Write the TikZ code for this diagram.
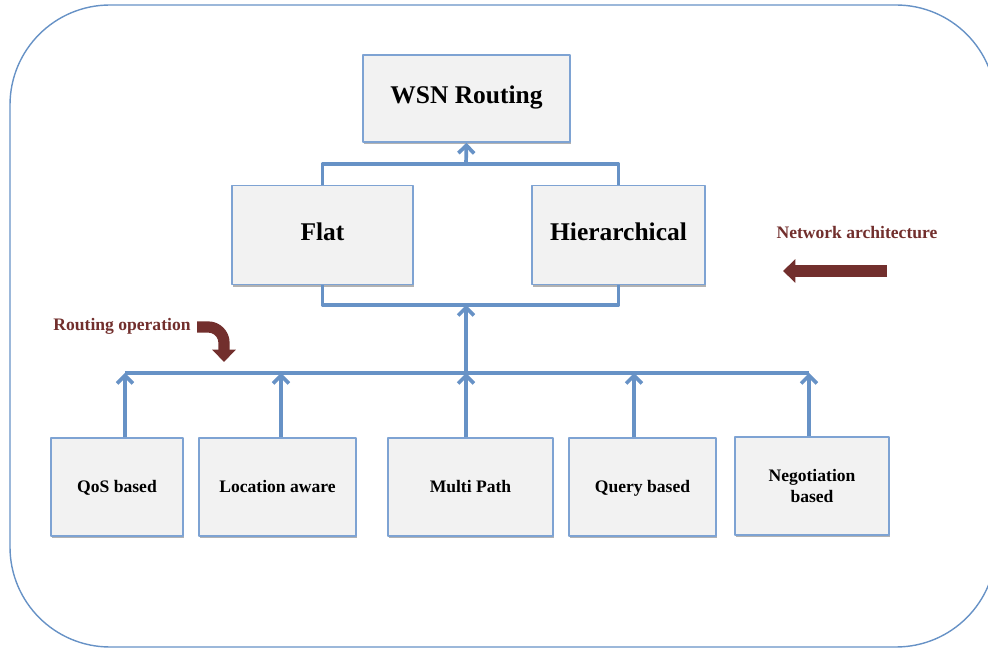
\documentclass[tikz,border=0pt]{standalone}
\usepackage{fontspec}
\setmainfont{Liberation Serif}
\usetikzlibrary{arrows.meta,shadows}
\definecolor{linkblue}{HTML}{6792C6}
\definecolor{boxblue}{HTML}{7EA3D3}
\definecolor{boxfill}{HTML}{F2F2F2}
\definecolor{darkred}{HTML}{722F2D}
\tikzset{
  every picture/.style={line join=round, >={Straight Barb[length=4.5pt,width=9pt]}},
  box/.style={draw=boxblue, line width=0.9pt, fill=boxfill, inner sep=0pt, align=center,
    font=\bfseries\fontsize{10}{11.5}\selectfont,
    drop shadow={shadow xshift=0.7pt, shadow yshift=-1.2pt, opacity=0.3, fill=black}},
  oneline/.style={text height=1.45ex, text depth=0.2ex},
  bigbox/.style={box, oneline, font=\bfseries\fontsize{14.5}{17}\selectfont},
  link/.style={linkblue, line width=2.1pt},
  fatarrow/.style={darkred, line width=6.4pt, -{Triangle[width=13pt,length=7pt]}},
  tag/.style={text=darkred, font=\bfseries\fontsize{10}{12}\selectfont},
  frame/.style={draw=linkblue, line width=0.8pt, rounded corners=2cm},
}

\begin{document}
\begin{tikzpicture}[x=0.02cm,y=-0.02cm]
\clip (0,0) rectangle (988,648);
\draw[frame] (10,5) rectangle (996,647);

% top levels
\node[bigbox, minimum width=4.14cm, minimum height=1.74cm] (wsn) at (466.5,98.5) {WSN Routing};
\node[bigbox, minimum width=3.62cm, minimum height=1.98cm] (flat) at (322.5,235) {Flat};
\node[bigbox, minimum width=3.46cm, minimum height=1.98cm] (hier) at (618.5,235) {Hierarchical};

% routing operation classes
\node[box, oneline, minimum width=2.64cm, minimum height=1.96cm] (qos) at (117,487) {QoS based};
\node[box, oneline, minimum width=3.14cm, minimum height=1.96cm] (loc) at (277.5,487) {Location aware};
\node[box, oneline, minimum width=3.30cm, minimum height=1.96cm] (multi) at (470.5,487) {Multi Path};
\node[box, oneline, minimum width=2.94cm, minimum height=1.96cm] (query) at (642.5,487) {Query based};
\node[box, minimum width=3.08cm, minimum height=1.96cm] (nego) at (812,486) {Negotiation\\based};

\coordinate (topbar) at (466,164);
\coordinate (lowbar) at (466,305);
\coordinate (b1) at (125,373);
\coordinate (b2) at (281,373);
\coordinate (b3) at (466,373);
\coordinate (b4) at (634,373);
\coordinate (b5) at (809,373);

\draw[link] (flat.north) |- (topbar) -| (hier.north);
\draw[link,->] (topbar) -- (wsn.south);
\draw[link] (flat.south) |- (lowbar) -| (hier.south);
\draw[link,->] (b3) -- (lowbar);
\draw[link] (b1) -- (b5);
\draw[link,->] (qos.north -| b1) -- (b1);
\draw[link,->] (loc.north -| b2) -- (b2);
\draw[link,->] (multi.north -| b3) -- (b3);
\draw[link,->] (query.north -| b4) -- (b4);
\draw[link,->] (nego.north -| b5) -- (b5);

% side labels
\node[tag] (netlabel) at (857,233) {Network architecture};
\node[tag] (oplabel) at (122,326) {Routing operation};
\coordinate (nettail) at (887,271);
\coordinate (nettip) at (783,271);
\draw[fatarrow] (nettail) -- (nettip);
\coordinate (optail) at (197,327);
\coordinate (optip) at (224,362);
\draw[fatarrow, rounded corners=9pt] (optail) -| (optip);
\end{tikzpicture}
\end{document}
